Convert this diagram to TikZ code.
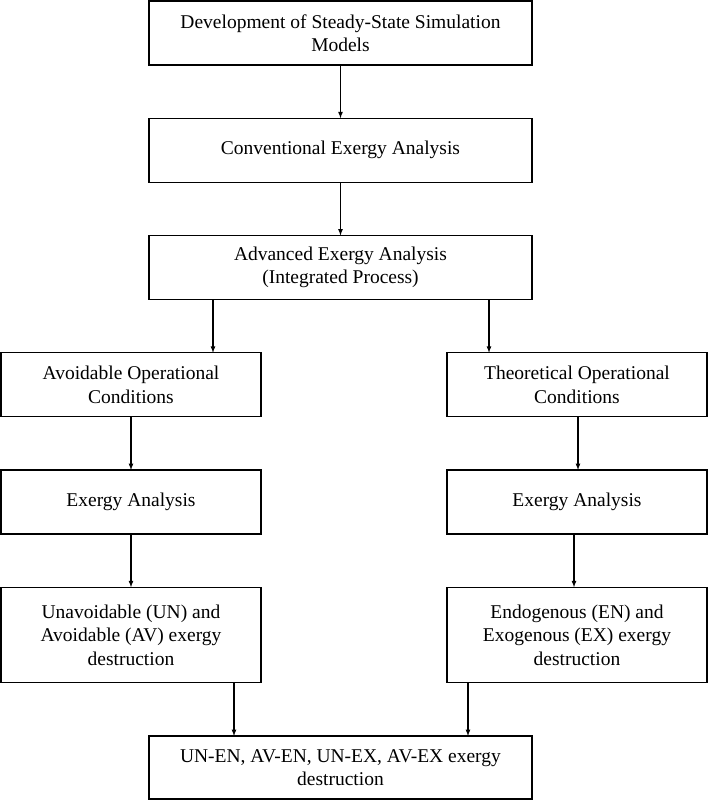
\documentclass[tikz,border=0pt]{standalone}
\usepackage{fontspec}
\setmainfont{Liberation Serif}
\usetikzlibrary{arrows,shapes,positioning}

\begin{document}
\begin{tikzpicture}[x=1pt, y=-1pt, node distance=53.25pt, >=latex, line width=1.2pt,
    stepbox/.style={rectangle, draw, outer sep=0pt, align=center, minimum height=64pt, font=\fontsize{19.5}{23.4}\selectfont},
    widebox/.style={stepbox, minimum width=383pt},
    sidebox/.style={stepbox, minimum width=260pt}]
  \useasboundingbox (0,0) rectangle (708,800);
  % middle column
  \node (models) [widebox] at (340.5,33) {Development of Steady-State Simulation\\Models};
  \node (conv) [widebox, below=of models] {Conventional Exergy Analysis};
  \node (adv) [widebox, below=of conv] {Advanced Exergy Analysis\\(Integrated Process)};
  % left branch
  \node (avoid) [sidebox, below=of adv, xshift=-209.5pt] {Avoidable Operational\\Conditions};
  \node (exL) [sidebox, below=of avoid] {Exergy Analysis};
  \node (un) [sidebox, minimum height=95.5pt, below=of exL] {Unavoidable (UN) and\\Avoidable (AV) exergy\\destruction};
  % right branch
  \node (theo) [sidebox, below=of adv, xshift=236.5pt] {Theoretical Operational\\Conditions};
  \node (exR) [sidebox, below=of theo] {Exergy Analysis};
  \node (en) [sidebox, minimum height=95.5pt, below=of exR] {Endogenous (EN) and\\Exogenous (EX) exergy\\destruction};
  % result
  \node (final) [widebox, minimum height=63pt, below=of un, xshift=209.5pt] {UN-EN, AV-EN, UN-EX, AV-EX exergy\\destruction};
  \draw[->] (models) -- (conv);
  \draw[->] (conv) -- (adv);
  \draw[->] ([xshift=-127.5pt]adv.south) -- ([xshift=-127.5pt]adv.south |- avoid.north);
  \draw[->] ([xshift=148.5pt]adv.south) -- ([xshift=148.5pt]adv.south |- theo.north);
  \draw[->] (avoid) -- (exL);
  \draw[->] ([xshift=1pt]theo.south) -- ([xshift=1pt]exR.north);
  \draw[->] (exL) -- (un);
  \draw[->] ([xshift=-3pt]exR.south) -- ([xshift=-3pt]en.north);
  \draw[->] ([xshift=103pt]un.south) -- ([xshift=103pt]un.south |- final.north);
  \draw[->] ([xshift=-109pt]en.south) -- ([xshift=-109pt]en.south |- final.north);
\end{tikzpicture}
\end{document}
